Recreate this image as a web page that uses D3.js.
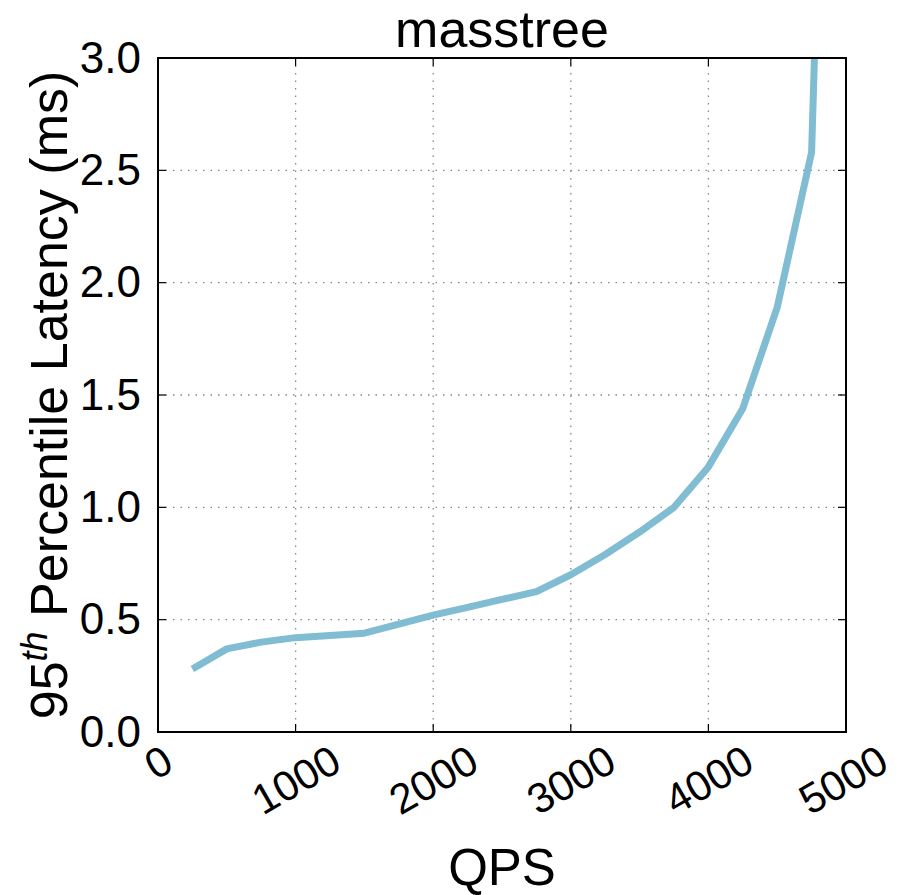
<!DOCTYPE html>
<html>
<head>
<meta charset="utf-8">
<script src="https://cdn.jsdelivr.net/npm/d3@7"></script>
<style>
  body { margin: 0; background: #fff; }
  text { font-family: "Liberation Sans", Arial, sans-serif; fill: #000; }
</style>
</head>
<body>
<svg width="898" height="895"></svg>
<script>
const qps = [250, 500, 750, 1000, 1250, 1500, 1750, 2000, 2250, 2500, 2750, 3000,
  3250, 3500, 3750, 4000, 4250, 4500, 4750, 4800]
const latency = [0.28, 0.37, 0.40, 0.42, 0.43, 0.44, 0.48, 0.52, 0.555, 0.59, 0.625, 0.70,
  0.79, 0.89, 1.0, 1.18, 1.44, 1.89, 2.58, 3.6]
const xTicks = [0, 1000, 2000, 3000, 4000, 5000]
const yTicks = [0, 0.5, 1.0, 1.5, 2.0, 2.5, 3.0]

const svg = d3.select('svg')
const width = +svg.attr('width')
const height = +svg.attr('height')
const margin = { top: 58, right: 52, bottom: 163, left: 158 }
const innerW = width - margin.left - margin.right
const innerH = height - margin.top - margin.bottom

const g = svg.append('g')
  .attr('transform', `translate(${margin.left}, ${margin.top})`)

const x = d3.scaleLinear().domain([0, 5000]).range([0, innerW])
const y = d3.scaleLinear().domain([0, 3]).range([innerH, 0])

// dotted grid
g.append('g').selectAll('line').data(xTicks.slice(1, -1)).join('line')
  .attr('x1', d => x(d)).attr('x2', d => x(d))
  .attr('y1', 0).attr('y2', innerH)
  .attr('stroke', '#888').attr('stroke-width', 1.3).attr('stroke-dasharray', '1.5,6')
g.append('g').selectAll('line').data(yTicks.slice(1, -1)).join('line')
  .attr('y1', d => y(d)).attr('y2', d => y(d))
  .attr('x1', 0).attr('x2', innerW)
  .attr('stroke', '#888').attr('stroke-width', 1.3).attr('stroke-dasharray', '1.5,6')

// line
svg.append('defs').append('clipPath').attr('id', 'clip')
  .append('rect').attr('width', innerW).attr('height', innerH)

const line = d3.line().x((d, i) => x(qps[i])).y(d => y(d))
g.append('path')
  .datum(latency)
  .attr('clip-path', 'url(#clip)')
  .attr('d', line)
  .attr('fill', 'none')
  .attr('stroke', '#80bcd2')
  .attr('stroke-width', 7)
  .attr('stroke-linejoin', 'round')
  .attr('stroke-linecap', 'butt')

// inward ticks on all four sides
const tickLen = 8
g.append('g').selectAll('line').data(xTicks).join('line')
  .attr('x1', d => x(d)).attr('x2', d => x(d))
  .attr('y1', innerH).attr('y2', innerH - tickLen)
  .attr('stroke', '#000').attr('stroke-width', 1.2)
g.append('g').selectAll('line').data(xTicks).join('line')
  .attr('x1', d => x(d)).attr('x2', d => x(d))
  .attr('y1', 0).attr('y2', tickLen)
  .attr('stroke', '#000').attr('stroke-width', 1.2)
g.append('g').selectAll('line').data(yTicks).join('line')
  .attr('y1', d => y(d)).attr('y2', d => y(d))
  .attr('x1', 0).attr('x2', tickLen)
  .attr('stroke', '#000').attr('stroke-width', 1.2)
g.append('g').selectAll('line').data(yTicks).join('line')
  .attr('y1', d => y(d)).attr('y2', d => y(d))
  .attr('x1', innerW).attr('x2', innerW - tickLen)
  .attr('stroke', '#000').attr('stroke-width', 1.2)

// frame
g.append('rect')
  .attr('width', innerW).attr('height', innerH)
  .attr('fill', 'none').attr('stroke', '#000').attr('stroke-width', 2)

// y tick labels
g.append('g').selectAll('text').data(yTicks).join('text')
  .attr('x', -17).attr('y', d => y(d))
  .attr('dy', '0.33em')
  .attr('text-anchor', 'end')
  .attr('font-size', 44)
  .text(d => d.toFixed(1))

// x tick labels, rotated 30deg, bbox centred under tick
const capH = 30
const labelTop = innerH + 11
g.append('g').selectAll('text').data(xTicks).join('text')
  .attr('font-size', 42)
  .attr('text-anchor', 'middle')
  .attr('dy', '0.36em')
  .text(d => d)
  .each(function (d) {
    const w = this.getComputedTextLength()
    const boxH = w * 0.5 + capH * 0.866
    const cy = labelTop + boxH / 2
    const dx = d === 5000 ? -3 : 0
    d3.select(this).attr('transform', `translate(${x(d) + dx}, ${cy}) rotate(-30)`)
  })

// title
svg.append('text')
  .attr('x', margin.left + innerW / 2).attr('y', 47)
  .attr('text-anchor', 'middle')
  .attr('font-size', 52)
  .text('masstree')

// x label
svg.append('text')
  .attr('x', margin.left + innerW / 2).attr('y', 885)
  .attr('text-anchor', 'middle')
  .attr('font-size', 51)
  .text('QPS')

// y label
const yl = svg.append('text')
  .attr('transform', `translate(67, ${margin.top + innerH / 2}) rotate(-90)`)
  .attr('text-anchor', 'middle')
  .attr('font-size', 52)
yl.append('tspan').text('95')
yl.append('tspan').attr('font-size', 36).attr('font-style', 'italic').attr('dy', -20).text('th')
yl.append('tspan').attr('dy', 20).text(' Percentile Latency (ms)')
</script>
</body>
</html>
